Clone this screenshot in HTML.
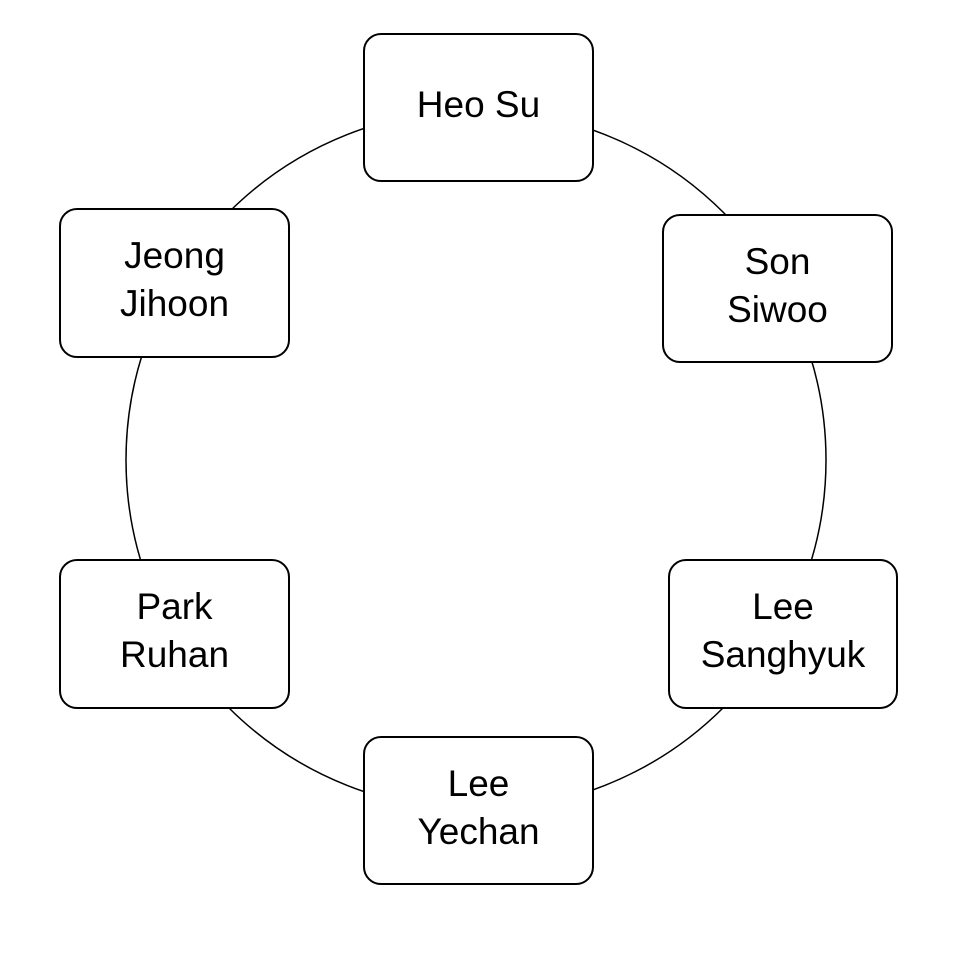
<!DOCTYPE html>
<html><head><meta charset="utf-8"><style>
html,body{margin:0;padding:0;background:#fff;}
body{width:972px;height:959px;position:relative;overflow:hidden;font-family:"Liberation Sans",sans-serif;}
.b{position:absolute;box-sizing:border-box;border:2.8px solid #000;border-radius:18px;background:#fff;display:flex;align-items:center;justify-content:center;text-align:center;font-size:37px;line-height:48px;color:#000;padding-bottom:6px;}
</style></head><body>
<svg width="972" height="959" style="position:absolute;left:0;top:0">
<circle cx="476" cy="460" r="350" fill="none" stroke="#000" stroke-width="1.5"/>
</svg>
<div class="b" style="left:363px;top:33px;width:231px;height:149px;">Heo Su</div>
<div class="b" style="left:662px;top:214px;width:231px;height:149px;">Son<br>Siwoo</div>
<div class="b" style="left:668px;top:559px;width:230px;height:150px;">Lee<br>Sanghyuk</div>
<div class="b" style="left:363px;top:736px;width:231px;height:149px;">Lee<br>Yechan</div>
<div class="b" style="left:59px;top:559px;width:231px;height:150px;">Park<br>Ruhan</div>
<div class="b" style="left:59px;top:208px;width:231px;height:150px;">Jeong<br>Jihoon</div>
</body></html>
